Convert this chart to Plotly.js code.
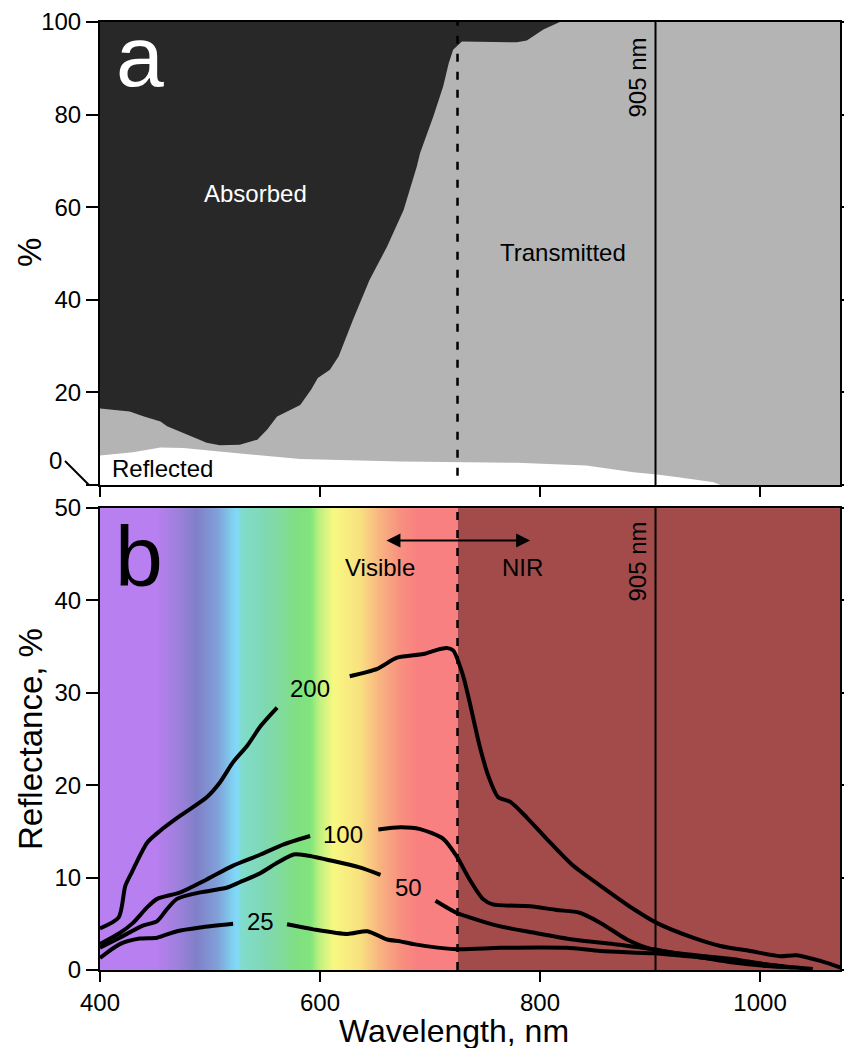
<!DOCTYPE html>
<html><head><meta charset="utf-8">
<script src="https://cdn.plot.ly/plotly-3.0.1.min.js"></script>
<style>html,body{margin:0;padding:0;background:#fff}#chart{width:844px;height:1048px}</style>
</head><body><div id="chart"></div>
<script>
// ---------- Panel a: fractions of light (%) ----------
const absorbedWl  = [400, 1073];
const absorbedPct = [100, 100];

const transWl  = [400, 427, 440, 455, 461, 479, 497, 509, 527, 543, 552, 561, 573, 582, 592, 598, 609, 617, 630, 645, 661, 676, 688, 691, 703, 712, 717, 721, 729, 760, 779, 788, 803, 818, 1073];
const transPct = [16.5, 15.9, 14.8, 13.7, 12.7, 10.9, 9.1, 8.6, 8.7, 9.8, 12.0, 14.8, 16.3, 17.3, 20.6, 23.1, 24.9, 27.8, 35.7, 44.3, 51.5, 59.4, 68.8, 71.7, 79.6, 86.1, 91.1, 94.0, 95.8, 95.7, 95.6, 96.0, 98.4, 100, 100];

const reflWl  = [400, 430, 455, 476, 506, 536, 582, 673, 725, 779, 842, 861, 885, 906, 924, 958, 964, 1073];
const reflPct = [6.35, 7.05, 8.1, 8.0, 7.3, 6.6, 5.6, 5.1, 5.0, 4.8, 4.2, 3.5, 2.75, 2.25, 1.75, 0.6, 0, 0];

// ---------- Panel b: reflectance curves (%) ----------
const c200Wl = [400, 417, 423, 429, 443, 455, 473, 497, 509, 521, 534, 546, 561, null, 627, 652, 670, 694, 705, 715, 721, 730, 736, 745, 753, 762, 773, 788, 806, 830, 861, 885, 906, 939, 964, 991, 1018, 1033, 1055, 1073];
const c200   = [4.5, 5.7, 9.1, 10.6, 13.8, 15.1, 16.7, 18.7, 20.3, 22.5, 24.3, 26.4, 28.4, null, 31.8, 32.6, 33.8, 34.2, 34.6, 34.85, 34.6, 31.9, 29.0, 24.3, 21.0, 18.7, 18.2, 16.5, 14.2, 11.3, 8.6, 6.6, 5.1, 3.5, 2.6, 2.06, 1.5, 1.6, 0.98, 0.26];

const c100Wl = [400, 418, 430, 443, 452, 473, 497, 521, 546, 567, 591, null, 653, 673, 691, 712, 724, 736, 748, 757, 791, 815, 836, 855, 879, 903, 933, 976, 1006, 1048];
const c100   = [2.8, 4.0, 5.1, 6.8, 7.7, 8.4, 9.8, 11.3, 12.5, 13.6, 14.5, null, 15.2, 15.45, 15.25, 14.2, 12.35, 9.8, 7.7, 7.1, 6.9, 6.5, 6.2, 5.1, 3.3, 2.2, 1.7, 1.16, 0.6, 0.1];

const c50Wl = [400, 418, 439, 452, 461, 470, 491, 515, 527, 546, 561, 576, 588, 612, 636, 655, null, 705, 724, 736, 761, 794, 830, 867, 903, 939, 976, 1006, 1030];
const c50   = [2.4, 3.5, 4.8, 5.3, 6.6, 7.7, 8.4, 8.9, 9.5, 10.5, 11.6, 12.5, 12.4, 11.8, 11.1, 10.3, null, 7.5, 6.2, 5.7, 4.8, 4.05, 3.3, 2.8, 2.25, 1.5, 0.8, 0.43, 0.26];

const c25Wl = [400, 418, 436, 452, 470, 491, 521, null, 570, 594, 625, 643, 661, 673, 685, 724, 764, 824, 855, 903, 946, 991, 1021];
const c25   = [1.3, 2.8, 3.4, 3.5, 4.2, 4.6, 5.0, null, 4.95, 4.4, 3.9, 4.2, 3.3, 3.1, 2.8, 2.25, 2.4, 2.4, 2.06, 1.8, 1.35, 0.8, 0.37];

// curve labels
const curveLabels  = ['200', '100', '50', '25'];
const curveLabelWl = [591, 621, 680, 546];
const curveLabelY  = [30.5, 14.7, 8.9, 5.2];

// spectrum background colour stops
const specWl    = [400, 450, 470, 487, 506, 520, 524, 528, 552, 580, 591, 598, 612, 636, 654, 673, 688, 724.5, 725.5, 1073];
const specColor = ['#b87ff0','#b87ff0','#9f80dc','#8080c8','#80a0d8','#80d0f0','#80d8fc','#80dccc','#80d8b0','#80e080','#80e47c','#b8f080','#f8f880','#f8e080','#f8b480','#f89080','#f88080','#f88080','#a34b4b','#a34b4b'];

// reference wavelengths
const visNirWl = 725;
const laserWl  = 905;

// tick values
const xTicks  = [400, 600, 800, 1000];
const yTicksA = [0, 20, 40, 60, 80, 100];
const yTicksB = [0, 10, 20, 30, 40, 50];

// ---------- build ----------
const FONT = 'Liberation Sans, Arial, sans-serif';
const X0 = 400, X1 = 1072.7;

const traces = [
  {x: absorbedWl, y: absorbedPct, xaxis:'x', yaxis:'y', mode:'lines', fill:'tozeroy', fillcolor:'#282828', line:{width:0, color:'#282828'}, hoverinfo:'skip'},
  {x: transWl, y: transPct, xaxis:'x', yaxis:'y', mode:'lines', fill:'tozeroy', fillcolor:'#b4b4b4', line:{width:0, color:'#b4b4b4'}, hoverinfo:'skip'},
  {x: reflWl, y: reflPct, xaxis:'x', yaxis:'y', mode:'lines', fill:'tozeroy', fillcolor:'#ffffff', line:{width:0, color:'#ffffff'}, hoverinfo:'skip'},
  {type:'heatmap', x: specWl, y:[0, 50], z:[specWl, specWl], xaxis:'x2', yaxis:'y2',
   zmin: X0, zmax: 1073, zsmooth:'best', showscale:false, hoverinfo:'skip',
   colorscale: specWl.map((w,i)=>[(w - X0)/(1073 - X0), specColor[i]])}
];
[[c200Wl,c200],[c100Wl,c100],[c50Wl,c50],[c25Wl,c25]].forEach(([xs,ys])=>{
  traces.push({x: xs, y: ys, xaxis:'x2', yaxis:'y2', mode:'lines', connectgaps:false,
    line:{color:'#000', width:4, shape:'spline', smoothing:0.7}, hoverinfo:'skip'});
});

const axBase = {showgrid:false, zeroline:false, showline:true, linecolor:'#000', linewidth:2,
  ticks:'outside', tickwidth:2, tickcolor:'#000', tickfont:{family:FONT, size:24, color:'#000'}};

const pxToPaperX = px => (px - 100) / 740;
const pxToPaperY = py => (970 - py) / 948;

const shapes = [
  {type:'line', xref:'x', yref:'y', x0:visNirWl, x1:visNirWl, y0:2, y1:100, line:{color:'#000', width:2.5, dash:'8px,10px'}},
  {type:'line', xref:'x', yref:'y', x0:laserWl, x1:laserWl, y0:0, y1:100, line:{color:'#000', width:2}},
  {type:'line', xref:'x2', yref:'y2', x0:visNirWl, x1:visNirWl, y0:0, y1:50, line:{color:'#000', width:2.5, dash:'8px,10px'}},
  {type:'line', xref:'x2', yref:'y2', x0:laserWl, x1:laserWl, y0:0, y1:50, line:{color:'#000', width:2}},
  {type:'line', xref:'paper', yref:'paper', x0:pxToPaperX(65), y0:pxToPaperY(461), x1:pxToPaperX(89), y1:pxToPaperY(485), line:{color:'#000', width:2}}
];

const tf = (size, color) => ({family:FONT, size:size, color:color||'#000'});
const C = {xanchor:'center', yanchor:'middle', showarrow:false};
const annotations = [
  Object.assign({xref:'x', yref:'y', x:436, y:92.7, text:'a', font:tf(86,'#fff')}, C),
  Object.assign({xref:'x', yref:'y', x:541, y:62.9, text:'Absorbed', font:tf(24,'#fff')}, C),
  Object.assign({xref:'x', yref:'y', x:821, y:50.3, text:'Transmitted', font:tf(24)}, C),
  Object.assign({xref:'x', yref:'y', x:409, y:3.5, text:'Reflected', font:tf(24)}, C, {xanchor:'left'}),
  Object.assign({xref:'x', yref:'y', x:889, y:88, text:'905 nm', textangle:-90, font:tf(24)}, C),
  Object.assign({xref:'paper', yref:'paper', x:pxToPaperX(55), y:pxToPaperY(461), text:'0', font:tf(24)}, C),
  Object.assign({xref:'x2', yref:'y2', x:435.5, y:44.8, text:'b', font:tf(86)}, C),
  Object.assign({xref:'x2', yref:'y2', x:889, y:44.2, text:'905 nm', textangle:-90, font:tf(24)}, C),
  Object.assign({xref:'x2', yref:'y2', x:654.5, y:43.6, text:'Visible', font:tf(24)}, C),
  Object.assign({xref:'x2', yref:'y2', x:784.5, y:43.6, text:'NIR', font:tf(24)}, C),
  {xref:'x2', yref:'y2', x:791, y:46.5, axref:'x2', ayref:'y2', ax:659, ay:46.5, text:'', showarrow:true,
   arrowside:'end+start', arrowhead:2, arrowsize:1.4, arrowwidth:2, arrowcolor:'#000'},
  Object.assign({xref:'paper', yref:'paper', x:pxToPaperX(30), y:pxToPaperY(253), text:'%', textangle:-90, font:tf(33)}, C),
  Object.assign({xref:'paper', yref:'paper', x:pxToPaperX(30), y:pxToPaperY(739), text:'Reflectance, %', textangle:-90, font:tf(33)}, C),
  Object.assign({xref:'paper', yref:'paper', x:pxToPaperX(453.5), y:pxToPaperY(1031), text:'Wavelength, nm', font:tf(32)}, C)
];
curveLabels.forEach((t,i)=>annotations.push(Object.assign({xref:'x2', yref:'y2', x:curveLabelWl[i], y:curveLabelY[i], text:t, font:tf(24)}, C)));

const layout = {
  width:844, height:1048, margin:{l:100, r:4, t:22, b:78},
  paper_bgcolor:'#fff', plot_bgcolor:'rgba(0,0,0,0)', showlegend:false,
  font:{family:FONT, color:'#000'},
  xaxis: Object.assign({}, axBase, {domain:[0,1], anchor:'y', range:[X0,X1], tickvals:xTicks, showticklabels:false, ticklen:10, mirror:true}),
  yaxis: Object.assign({}, axBase, {domain:[0.5116,1], anchor:'x', range:[0,100], tickvals:yTicksA, ticktext:yTicksA.map(v=>v===0?'':String(v)), ticklen:12, mirror:'ticks'}),
  xaxis2: Object.assign({}, axBase, {domain:[0,1], anchor:'y2', range:[X0,X1], tickvals:xTicks, ticklen:10, mirror:true}),
  yaxis2: Object.assign({}, axBase, {domain:[0,0.4873], anchor:'x2', range:[0,50], tickvals:yTicksB, ticklen:12, mirror:'ticks'}),
  shapes: shapes, annotations: annotations
};

Plotly.newPlot('chart', traces, layout, {staticPlot:true, displayModeBar:false});
</script>
</body></html>
